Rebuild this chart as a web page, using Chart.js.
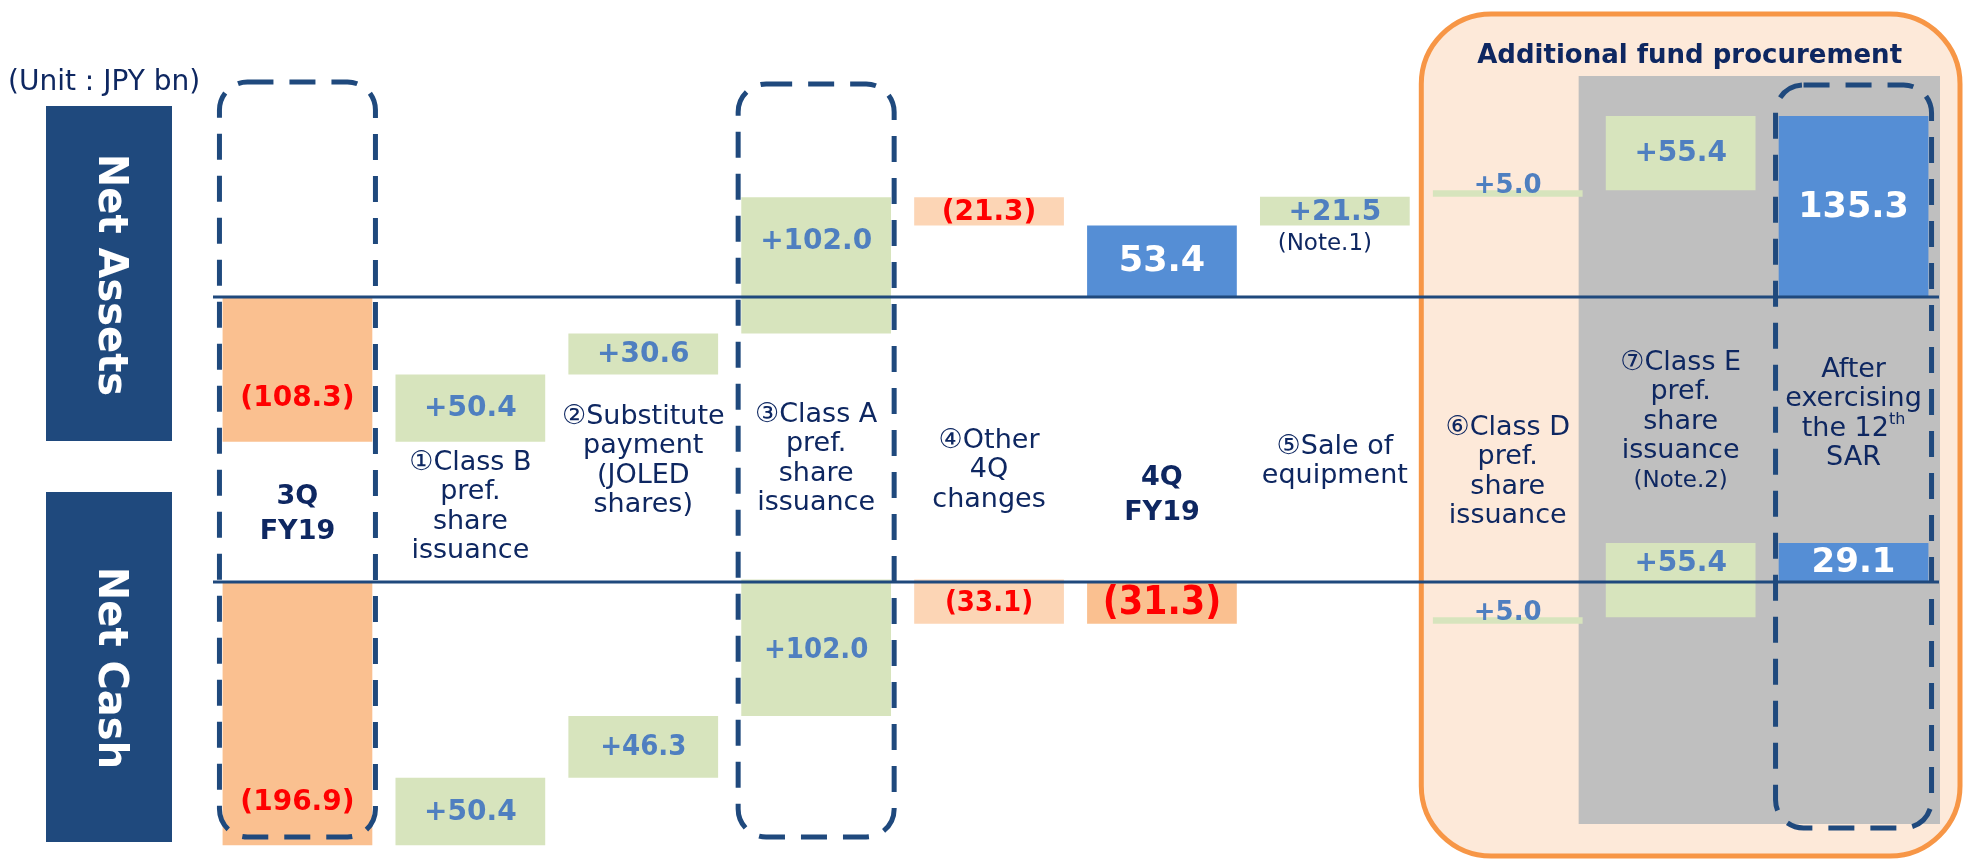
<!DOCTYPE html>
<html>
<head>
<meta charset="utf-8">
<script src="https://cdn.jsdelivr.net/npm/chart.js@4.4.1/dist/chart.umd.min.js"></script>
<style>
  html, body { margin: 0; padding: 0; background: #fff; }
</style>
</head>
<body>
<canvas id="myChart" width="1964" height="860"></canvas>
<script>
// Steps of the bridge, left to right
var categories = ["3Q FY19", "Class B", "Substitute payment", "Class A", "Other 4Q changes",
                  "4Q FY19", "Sale of equipment", "Class D", "Class E", "After 12th SAR"];
var categoryLines = [
  ["3Q", "FY19"],
  ["\u2460Class B", "pref.", "share", "issuance"],
  ["\u2461Substitute", "payment", "(JOLED", "shares)"],
  ["\u2462Class A", "pref.", "share", "issuance"],
  ["\u2463Other", "4Q", "changes"],
  ["4Q", "FY19"],
  ["\u2464Sale of", "equipment"],
  ["\u2465Class D", "pref.", "share", "issuance"],
  ["\u2466Class E", "pref.", "share", "issuance", "(Note.2)"],
  ["After", "exercising", "the 12th", "SAR"]
];
// "total" = balance bar from zero, "delta" = change from previous balance
var stepKind = ["total", "delta", "delta", "delta", "delta", "total", "delta", "delta", "delta", "total"];
// JPY bn
var netAssets = [-108.3, 50.4, 30.6, 102.0, -21.3, 53.4, 21.5, 5.0, 55.4, 135.3];
var netCash   = [-196.9, 50.4, 46.3, 102.0, -33.1, -31.3, null, 5.0, 55.4, 29.1];
var notes = ["", "", "", "", "", "", "(Note.1)", "", "", ""];

// layout / style
const W = 1964, H = 860;
const PX_PER_UNIT = 1.337;
const ZERO_ASSETS = 297, ZERO_CASH = 582;
const NAVY = "#1F497D", TEXT = "#0E2761", RED = "#FF0000", BLUE_TXT = "#4F7FC0";
const FONT = '"DejaVu Sans", Verdana, sans-serif';
const COND = '"DejaVu Sans Condensed", "DejaVu Sans", sans-serif';
var labelTop = [497, 463, 417, 415, 441, 478, 447, 428, 363, 370];
var labelBold = [true, false, false, false, false, true, false, false, false, false];
var anchors = ["end", "center", "center", "center", "center", "center", "center", "above", "center", "center"];
var assetsLabelSize = [28, 28, 28, 28, 28, 35, 28, 26, 28, 35];
var cashLabelSize = [28, 28, 29, 29, 29, 39, 28, 26, 28, 34];
var cashCondensed = [false, false, true, true, true, true, false, false, false, false];

function toFloating(values) {
  let running = 0;
  return values.map((v, i) => {
    if (v == null) return null;
    if (stepKind[i] === "total") { running = v; return [0, v]; }
    const r = [running, running + v];
    running += v;
    return r;
  });
}

function barColor(values) {
  return values.map((v, i) => {
    if (stepKind[i] === "total") return v >= 0 ? "#558ED5" : "#FAC090";
    return v >= 0 ? "#D7E4BD" : "#FCD5B5";
  });
}

function axisRange(zeroPx) {
  const max = zeroPx / PX_PER_UNIT;
  return { min: max - H / PX_PER_UNIT, max: max };
}

function fmt(v, i) {
  if (v < 0) return "(" + Math.abs(v).toFixed(1) + ")";
  if (stepKind[i] === "delta") return "+" + v.toFixed(1);
  return v.toFixed(1);
}

function roundRect(ctx, x, y, w, h, r) {
  ctx.beginPath();
  ctx.moveTo(x + r, y);
  ctx.lineTo(x + w - r, y);
  ctx.arcTo(x + w, y, x + w, y + r, r);
  ctx.lineTo(x + w, y + h - r);
  ctx.arcTo(x + w, y + h, x + w - r, y + h, r);
  ctx.lineTo(x + r, y + h);
  ctx.arcTo(x, y + h, x, y + h - r, r);
  ctx.lineTo(x, y + r);
  ctx.arcTo(x, y, x + r, y, r);
  ctx.closePath();
}

const backdrop = {
  id: "backdrop",
  beforeDatasetsDraw(chart) {
    const ctx = chart.ctx, x = chart.scales.x;
    const step = x.getPixelForValue(1) - x.getPixelForValue(0);
    ctx.save();
    // Additional fund procurement frame
    const fx = x.getPixelForValue(7) - step / 2;
    roundRect(ctx, fx, 14, W - 4 - fx, H - 18, 70);
    ctx.fillStyle = "#FDE9D9";
    ctx.fill();
    ctx.lineWidth = 5;
    ctx.strokeStyle = "#F79646";
    ctx.stroke();
    // grey band for the final two steps
    const gx = x.getPixelForValue(8) - 102;
    ctx.fillStyle = "#BFBFBF";
    ctx.fillRect(gx, 76, chart.chartArea.right - gx, 824 - 76);
    ctx.fillStyle = TEXT;
    ctx.font = "bold 26px " + FONT;
    ctx.textAlign = "center";
    ctx.textBaseline = "middle";
    ctx.fillText("Additional fund procurement", (fx + W) / 2 - 3, 56);

    // side titles
    ctx.fillStyle = NAVY;
    ctx.fillRect(46, 106, 126, 335);
    ctx.fillRect(46, 492, 126, 350);
    ctx.fillStyle = "#fff";
    ctx.font = "bold 40px " + FONT;
    [["Net Assets", 275], ["Net Cash", 668]].forEach(([t, cy]) => {
      ctx.save();
      ctx.translate(109, cy);
      ctx.rotate(Math.PI / 2);
      ctx.fillText(t, 0, 0);
      ctx.restore();
    });
    ctx.fillStyle = TEXT;
    ctx.font = "28px " + FONT;
    ctx.textAlign = "left";
    ctx.fillText("(Unit : JPY bn)", 8, 83);
    ctx.restore();
  },
  afterDatasetsDraw(chart) {
    const ctx = chart.ctx, x = chart.scales.x, area = chart.chartArea;
    ctx.save();
    // zero lines
    ctx.strokeStyle = NAVY;
    ctx.lineWidth = 3;
    [chart.scales.y.getPixelForValue(0), chart.scales.y2.getPixelForValue(0)].forEach(py => {
      ctx.beginPath();
      ctx.moveTo(area.left + 2, py);
      ctx.lineTo(area.right - 1, py);
      ctx.stroke();
    });
    // dashed frames round the balance steps
    ctx.lineWidth = 5;
    ctx.setLineDash([26, 16]);
    [[0, 82, 837], [3, 84, 837], [9, 85, 828]].forEach(([i, top, bottom]) => {
      const cx = x.getPixelForValue(i);
      roundRect(ctx, cx - 78, top, 156, bottom - top, 28);
      ctx.stroke();
    });
    ctx.setLineDash([]);

    // value labels
    ctx.textAlign = "center";
    ctx.textBaseline = "middle";
    [[0, netAssets, assetsLabelSize], [1, netCash, cashLabelSize]].forEach(([d, values, sizes]) => {
      const meta = chart.getDatasetMeta(d);
      const ys = chart.scales[meta.yAxisID];
      const ranges = chart.data.datasets[d].data;
      meta.data.forEach((bar, i) => {
        const v = values[i];
        if (v == null) return;
        const s = ranges[i][0], e = ranges[i][1];
        const pS = ys.getPixelForValue(s), pE = ys.getPixelForValue(e);
        let y;
        if (anchors[i] === "end") y = pE + (e < s ? -44 : 44);
        else if (anchors[i] === "above") y = Math.min(pS, pE) - 5;
        else if (s * e < 0) {
          const part = Math.abs(e) >= Math.abs(s) ? e : s;
          y = (ys.getPixelForValue(0) + ys.getPixelForValue(part)) / 2 - (part > 50 ? 6 : 0);
        } else y = (pS + pE) / 2;
        const cond = d === 1 && cashCondensed[i];
        ctx.font = "bold " + sizes[i] + "px " + (cond ? COND : FONT);
        ctx.fillStyle = v < 0 ? RED : (stepKind[i] === "total" ? "#fff" : BLUE_TXT);
        ctx.fillText(fmt(v, i), bar.x, y + 1);
        if (d === 0 && notes[i]) {
          ctx.font = "23px " + FONT;
          ctx.fillStyle = TEXT;
          ctx.fillText(notes[i], bar.x - 10, Math.max(pS, pE) + 18);
        }
      });
    });

    // step names
    ctx.fillStyle = TEXT;
    categoryLines.forEach((lines, i) => {
      const cx = x.getPixelForValue(i);
      const lh = labelBold[i] ? 35 : 29.4;
      lines.forEach((t, k) => {
        const y = labelTop[i] + k * lh;
        if (t.startsWith("(Note")) {
          ctx.font = "23px " + FONT;
          ctx.fillText(t, cx, y);
        } else if (t === "the 12th") {
          ctx.font = "27px " + FONT;
          const main = "the 12", w1 = ctx.measureText(main).width;
          ctx.font = "16px " + FONT;
          const w2 = ctx.measureText("th").width;
          const left = cx - (w1 + w2) / 2;
          ctx.textAlign = "left";
          ctx.font = "27px " + FONT;
          ctx.fillText(main, left, y);
          ctx.font = "16px " + FONT;
          ctx.fillText("th", left + w1, y - 9);
          ctx.textAlign = "center";
        } else {
          ctx.font = (labelBold[i] ? "bold 27px " : "27px ") + FONT;
          ctx.fillText(t, cx, y);
        }
      });
    });
    ctx.restore();
  }
};

const assetsRange = axisRange(ZERO_ASSETS);
const cashRange = axisRange(ZERO_CASH);

const data = {
  labels: categories,
  datasets: [
    {
      label: "Net Assets",
      data: toFloating(netAssets),
      yAxisID: "y",
      backgroundColor: barColor(netAssets),
      borderWidth: 0,
      grouped: false,
      barPercentage: 0.866,
      categoryPercentage: 1.0,
    },
    {
      label: "Net Cash",
      data: toFloating(netCash),
      yAxisID: "y2",
      backgroundColor: barColor(netCash),
      borderWidth: 0,
      grouped: false,
      barPercentage: 0.866,
      categoryPercentage: 1.0,
    },
  ],
};

const config = {
  type: "bar",
  data,
  options: {
    responsive: false,
    animation: false,
    events: [],
    layout: { padding: { left: 211, right: 24, top: 0, bottom: 0 } },
    plugins: { legend: { display: false }, tooltip: { enabled: false } },
    scales: {
      x: { display: false, grid: { display: false } },
      y: { display: false, min: assetsRange.min, max: assetsRange.max },
      y2: { display: false, min: cashRange.min, max: cashRange.max },
    },
  },
  plugins: [backdrop],
};

const myChart = new Chart(document.getElementById("myChart"), config);
</script>
</body>
</html>
